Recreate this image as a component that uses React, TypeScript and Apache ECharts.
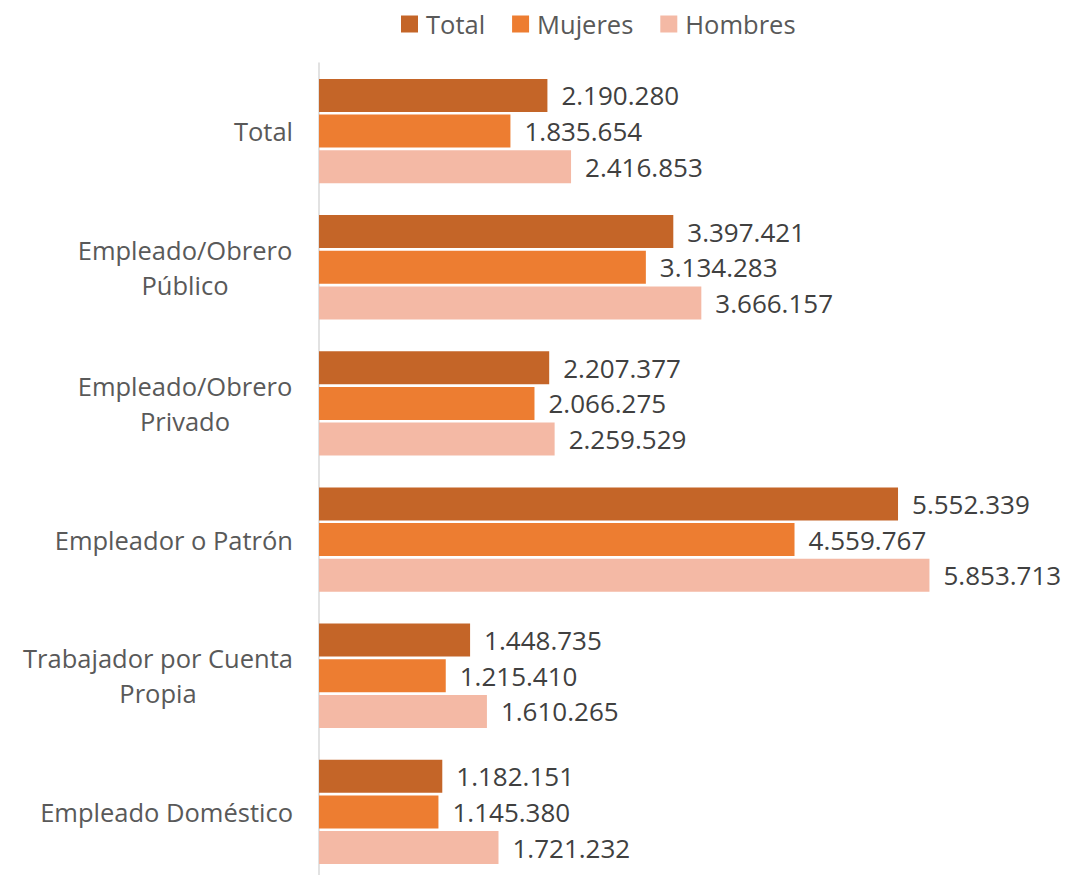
import React, { useEffect, useRef } from "react";
import * as echarts from "echarts";

const categories = [
  "Total",
  "Empleado/Obrero\nPúblico",
  "Empleado/Obrero\nPrivado",
  "Empleador o Patrón",
  "Trabajador por Cuenta\nPropia",
  "Empleado Doméstico",
];
const seriesNames = ["Total", "Mujeres", "Hombres"];
const totalValues = [2190280, 3397421, 2207377, 5552339, 1448735, 1182151];
const mujeresValues = [1835654, 3134283, 2066275, 4559767, 1215410, 1145380];
const hombresValues = [2416853, 3666157, 2259529, 5853713, 1610265, 1721232];
const colors = ["#C46528", "#ED7D31", "#F4B9A5"];

const FONT = "'Open Sans', 'Noto Sans', sans-serif";

function fmt(v: number): string {
  return String(Math.round(v)).replace(/\B(?=(\d{3})+(?!\d))/g, ".");
}

export default function App() {
  const ref = useRef<HTMLDivElement>(null);
  useEffect(() => {
    if (!ref.current) return;
    const chart = echarts.init(ref.current, undefined, { renderer: "svg" });
    const allData = [totalValues, mujeresValues, hombresValues];
    chart.setOption({
      animation: false,
      textStyle: { fontFamily: FONT },
      legend: {
        top: 1,
        left: 393,
        padding: 0,
        itemWidth: 17,
        itemHeight: 17,
        itemGap: 27,
        icon: "rect",
        textStyle: { fontSize: 25.5, lineHeight: 30, color: "#595959", fontFamily: FONT, padding: [0, 0, 0, 3] },
        data: seriesNames,
      },
      grid: { left: 311, right: 12, top: 55, bottom: 3, containLabel: false },
      xAxis: {
        type: "value",
        min: 0,
        max: 7000000,
        axisLine: { show: false },
        axisTick: { show: false },
        axisLabel: { show: false },
        splitLine: { show: false },
      },
      yAxis: {
        type: "category",
        inverse: true,
        data: categories,
        axisLine: { show: true, lineStyle: { color: "#D9D9D9", width: 1.5 } },
        axisTick: { show: false },
        axisLabel: {
          margin: 26,
          fontSize: 25.5,
          color: "#595959",
          fontFamily: FONT,
          lineHeight: 35,
          formatter: (v: string) => {
            if (v.indexOf("\n") < 0) return v;
            const lines = v.split("\n");
            const key = lines[0].length > 16 ? "w" : "m";
            return lines.map((l) => `{${key}|${l}}`).join("\n");
          },
          rich: {
            m: { width: 216, align: "center", fontSize: 25.5, color: "#595959", lineHeight: 35, fontFamily: FONT },
            w: { width: 270, align: "center", fontSize: 25.5, color: "#595959", lineHeight: 35, fontFamily: FONT },
          },
        },
      },
      series: seriesNames.map((name, i) => ({
        name,
        type: "bar",
        data: allData[i],
        barWidth: 33,
        barGap: "8%",
        itemStyle: { color: colors[i] },
        label: {
          show: true,
          position: "right",
          distance: 14,
          fontSize: 26,
          color: "#404040",
          fontFamily: FONT,
          formatter: (p: any) => fmt(p.value),
        },
      })),
    });
    return () => chart.dispose();
  }, []);
  return <div ref={ref} style={{ width: 1053, height: 875 }} />;
}
